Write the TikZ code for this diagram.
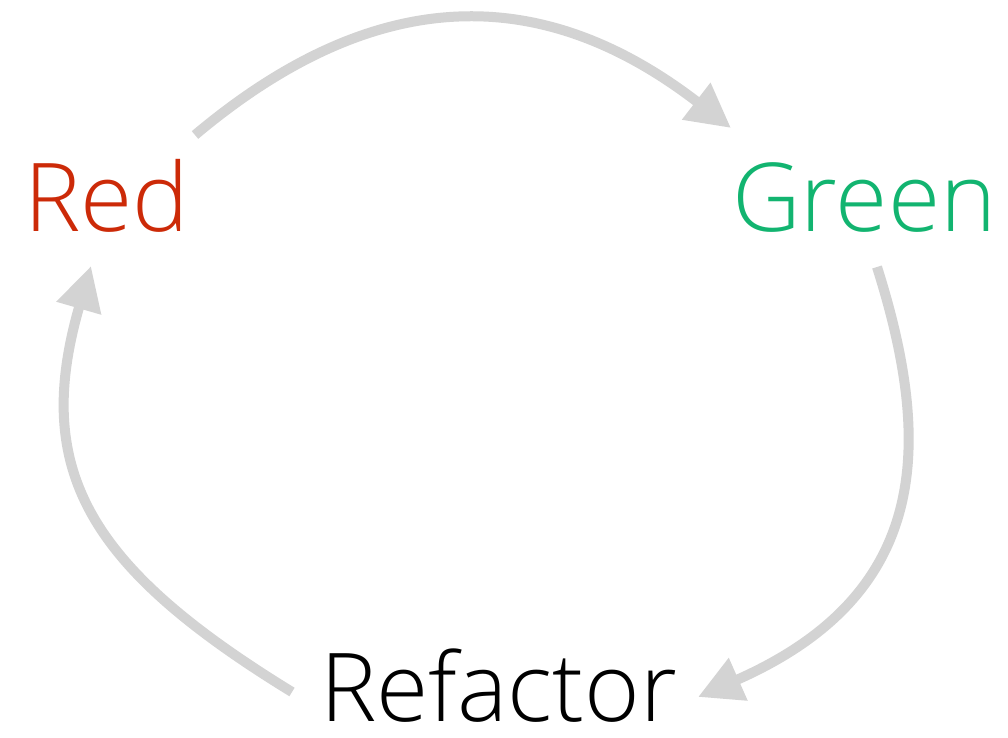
\documentclass[tikz,border=0pt]{standalone}
\usepackage{fontspec}
\setmainfont{Open Sans}[UprightFont={* Light}]
\usetikzlibrary{arrows.meta}
\definecolor{tddred}{HTML}{CC2A08}
\definecolor{tddgreen}{HTML}{12B470}
\definecolor{arcgray}{HTML}{D3D3D3}
\tikzset{
  word/.style={anchor=base west, inner sep=0pt, font=\fontsize{95bp}{105bp}\selectfont},
  cyclearrow/.style={draw=arcgray, line width=10bp, -{Triangle[length=44bp,width=44bp]}}
}
\begin{document}
\begin{tikzpicture}[x=1bp,y=-1bp]
\useasboundingbox (0,0) rectangle (1008,738);
\node[word, text=tddred] (red) at (24,231) {Red};
\node[word, text=tddgreen] (green) at (732,231) {Green};
\node[word, text=black] (refactor) at (320,721) {Refactor};
\coordinate (a1s) at (195,135);
\coordinate (a1e) at (731,128);
\coordinate (a2s) at (877,267);
\coordinate (a2e) at (698,697);
\coordinate (a3s) at (292,692);
\coordinate (a3e) at (91,266);
\draw[cyclearrow] (a1s) .. controls (377,-18) and (543,-17) .. (a1e);
\draw[cyclearrow] (a2s) .. controls (935,450) and (927,596) .. (a2e);
\draw[cyclearrow] (a3s) .. controls (88,567) and (32,470) .. (a3e);
\end{tikzpicture}
\end{document}
